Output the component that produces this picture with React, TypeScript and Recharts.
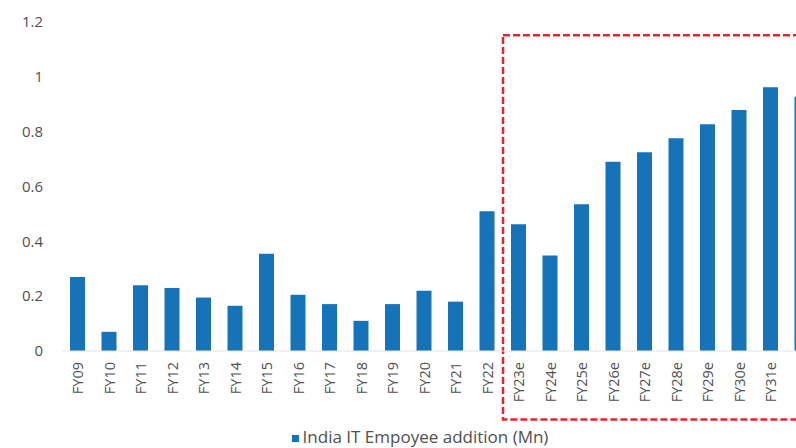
import React from "react";
import {
  BarChart,
  Bar,
  XAxis,
  YAxis,
  Legend,
  ReferenceArea,
} from "recharts";

const categories = [
  "FY09", "FY10", "FY11", "FY12", "FY13", "FY14", "FY15", "FY16",
  "FY17", "FY18", "FY19", "FY20", "FY21", "FY22",
  "FY23e", "FY24e", "FY25e", "FY26e", "FY27e", "FY28e", "FY29e",
  "FY30e", "FY31e", "FY32e",
];

const additions = [
  0.27, 0.07, 0.24, 0.23, 0.195, 0.165, 0.355, 0.205,
  0.171, 0.11, 0.171, 0.22, 0.18, 0.51,
  0.462, 0.348, 0.535, 0.69, 0.725, 0.776, 0.827,
  0.879, 0.962, 0.927,
];

const yTicks = [0, 0.2, 0.4, 0.6, 0.8, 1, 1.2];

const data = categories.map((fy, i) => ({ fy, value: additions[i] }));

const TEXT = "#505050";
const BLUE = "#1673b7";

function RotatedTick(props: any) {
  const { x, y, payload } = props;
  return (
    <g transform={`translate(${x},${y + 11})`}>
      <text
        transform="rotate(-90)"
        textAnchor="end"
        dominantBaseline="central"
        fill={TEXT}
        fontSize={14.5}
      >
        {payload.value}
      </text>
    </g>
  );
}

export default function App() {
  return (
    <div
      style={{
        position: "absolute",
        left: 0,
        top: 0,
        width: 796,
        height: 448,
        overflow: "hidden",
        background: "#fff",
        fontFamily: "'Open Sans', sans-serif",
      }}
    >
      <BarChart
        width={830}
        height={448}
        data={data}
        margin={{ top: 22, right: 12, left: 12, bottom: 0 }}
      >
        <XAxis
          dataKey="fy"
          interval={0}
          tickLine={false}
          tickSize={0}
          tickMargin={0}
          axisLine={{ stroke: "#e3e3e3" }}
          tick={<RotatedTick />}
          height={97}
        />
        <YAxis
          width={50}
          domain={[0, 1.2]}
          ticks={yTicks}
          axisLine={false}
          tickLine={false}
          tickSize={0}
          tickMargin={19}
          tick={{ fill: TEXT, fontSize: 15 }}
        />
        <ReferenceArea
          x1="FY23e"
          x2="FY32e"
          y1={-0.25}
          y2={1.152}
          fill="none"
          stroke="#e0262e"
          strokeWidth={2.5}
          strokeDasharray="7 3"
          ifOverflow="visible"
        />
        <Bar
          dataKey="value"
          name="India IT Empoyee addition (Mn)"
          fill={BLUE}
          barSize={15}
          isAnimationActive={false}
        />
        <Legend
          layout="horizontal"
          verticalAlign="middle"
          align="center"
          iconType="square"
          iconSize={7}
          wrapperStyle={{ top: 425, left: 275, width: 300 }}
          formatter={(value: string) => (
            <span style={{ color: TEXT, fontSize: 17 }}>{value}</span>
          )}
        />
      </BarChart>
    </div>
  );
}
